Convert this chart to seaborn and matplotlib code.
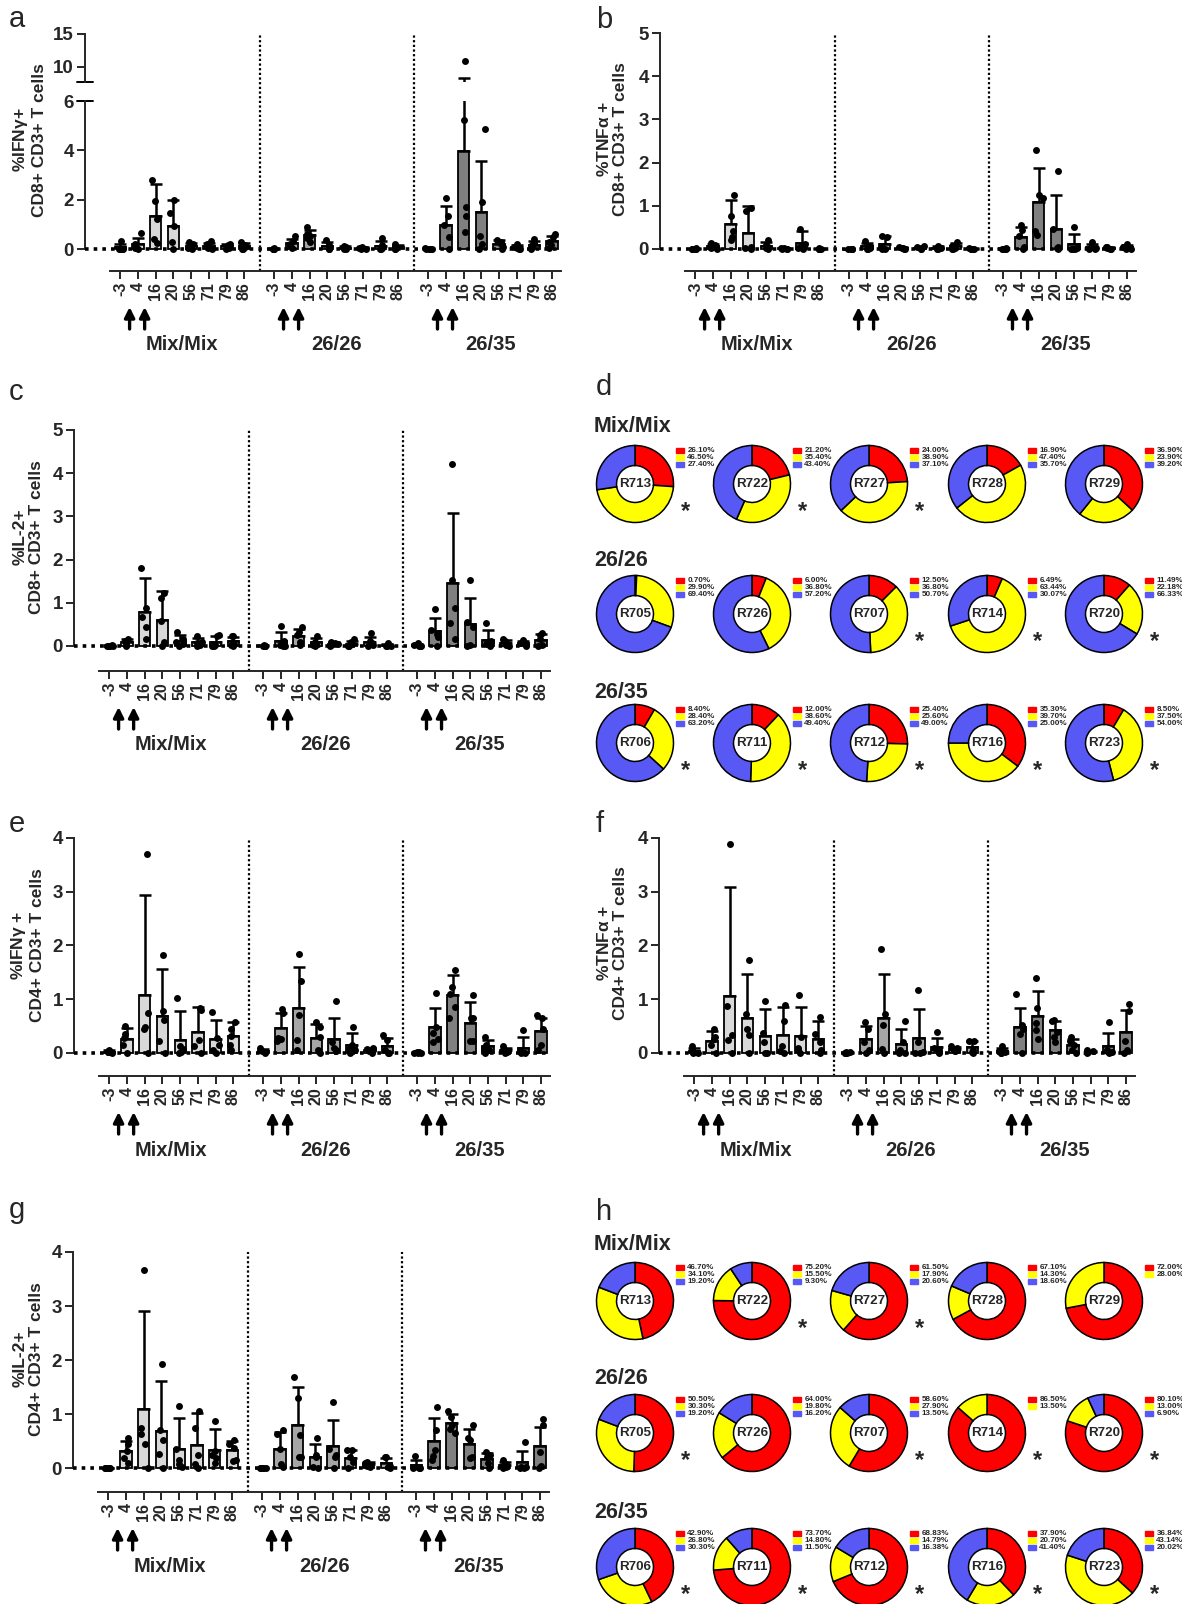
import numpy as np
import pandas as pd
import matplotlib
matplotlib.use('Agg')
from matplotlib import pyplot as plt
import matplotlib.transforms as mtransforms
from matplotlib.patches import Rectangle
import seaborn as sns

np.random.seed(3)

days = ['-3', '4', '16', '20', '56', '71', '79', '86']
groups = ['Mix/Mix', '26/26', '26/35']
bar_colors = ['#d9d9d9', '#a6a6a6', '#808080']

# ---- bar panels: individual points (5 animals per bar) and SD ----
a_pts = [[0.33, 0.02, 0, 0, 0], [0.64, 0.2, 0.1, 0.03, 0], [2.8, 1.95, 1.2, 0.4, 0.25], [1.97, 1.45, 0.95, 0.27, 0],
         [0.3, 0.22, 0.12, 0.05, 0], [0.32, 0.2, 0.08, 0.03, 0], [0.22, 0.15, 0.1, 0.05, 0.02], [0.3, 0.18, 0.08, 0.02, 0],
         [0.03, 0.02, 0.01, 0, 0], [0.52, 0.32, 0.22, 0.12, 0.05], [0.88, 0.62, 0.52, 0.45, 0.3], [0.35, 0.18, 0.08, 0.02, 0],
         [0.13, 0.08, 0.05, 0.02, 0], [0.08, 0.06, 0.04, 0.02, 0.01], [0.45, 0.15, 0.05, 0.02, 0], [0.22, 0.12, 0.05, 0.02, 0],
         [0.03, 0.02, 0.01, 0, 0], [2.06, 1.32, 0.98, 0.47, 0], [10.8, 5.25, 1.7, 1.35, 0.7], [4.87, 1.92, 0.52, 0.2, 0],
         [0.38, 0.3, 0.2, 0.1, 0.02], [0.22, 0.1, 0.05, 0.02, 0], [0.4, 0.25, 0.15, 0.08, 0.02], [0.6, 0.48, 0.3, 0.15, 0.05]]
a_sd = [0.13, 0.27, 1.33, 1.05, 0.12, 0.13, 0.08, 0.12,
        0.01, 0.18, 0.22, 0.14, 0.05, 0.03, 0.2, 0.09,
        0.01, 0.78, 4.25, 2.05, 0.15, 0.09, 0.15, 0.23]

b_pts = [[0.02, 0.01, 0.01, 0, 0], [0.13, 0.1, 0.05, 0.02, 0], [1.26, 0.76, 0.42, 0.28, 0.2], [0.95, 0.88, 0.05, 0.02, 0],
         [0.2, 0.1, 0.05, 0.02, 0], [0.03, 0.02, 0.01, 0, 0], [0.46, 0.12, 0.05, 0.02, 0], [0.02, 0.01, 0, 0, 0],
         [0.01, 0, 0, 0, 0], [0.18, 0.08, 0.03, 0.01, 0], [0.3, 0.28, 0.05, 0, 0], [0.05, 0.03, 0.02, 0.01, 0],
         [0.06, 0.04, 0.02, 0.01, 0], [0.08, 0.05, 0.02, 0.01, 0], [0.17, 0.08, 0.03, 0.01, 0], [0.02, 0.01, 0, 0, 0],
         [0.02, 0.01, 0, 0, 0], [0.55, 0.43, 0.3, 0.05, 0], [2.3, 1.24, 1.18, 0.42, 0.33], [1.8, 0.47, 0.05, 0.02, 0],
         [0.52, 0.02, 0, 0, 0], [0.15, 0.05, 0.02, 0.01, 0], [0.05, 0.04, 0.03, 0.01, 0], [0.12, 0.08, 0.04, 0.01, 0]]
b_sd = [0.01, 0.05, 0.54, 0.62, 0.08, 0.01, 0.28, 0.01,
        0.005, 0.07, 0.17, 0.02, 0.02, 0.03, 0.07, 0.01,
        0.01, 0.25, 0.79, 0.77, 0.23, 0.06, 0.02, 0.05]

c_pts = [[0.02, 0.01, 0, 0, 0], [0.17, 0.12, 0.08, 0.03, 0], [1.81, 0.87, 0.66, 0.45, 0.17], [1.22, 1.1, 0.57, 0.1, 0],
         [0.32, 0.15, 0.1, 0.05, 0], [0.24, 0.1, 0.06, 0.02, 0], [0.25, 0.22, 0.03, 0.01, 0], [0.24, 0.22, 0.05, 0.02, 0],
         [0.02, 0.01, 0, 0, 0], [0.47, 0.12, 0.03, 0, 0], [0.45, 0.32, 0.25, 0.1, 0.02], [0.24, 0.1, 0.04, 0.02, 0],
         [0.1, 0.07, 0.04, 0.02, 0], [0.15, 0.08, 0.04, 0.01, 0], [0.29, 0.12, 0.06, 0.02, 0], [0.06, 0.03, 0.01, 0, 0],
         [0.06, 0.02, 0.01, 0, 0], [0.85, 0.38, 0.28, 0.2, 0], [4.22, 1.53, 0.88, 0.52, 0.15], [1.53, 0.55, 0.45, 0.02, 0],
         [0.52, 0.12, 0.05, 0.02, 0], [0.17, 0.12, 0.05, 0.02, 0], [0.13, 0.1, 0.06, 0.02, 0], [0.3, 0.25, 0.15, 0.02, 0]]
c_sd = [0.01, 0.07, 0.77, 0.68, 0.13, 0.09, 0.12, 0.11,
        0.01, 0.21, 0.17, 0.1, 0.04, 0.06, 0.12, 0.03,
        0.03, 0.31, 1.62, 0.61, 0.22, 0.07, 0.05, 0.13]

e_pts = [[0.06, 0.04, 0.02, 0.01, 0], [0.5, 0.35, 0.28, 0.15, 0], [3.7, 0.74, 0.48, 0.45, 0], [1.82, 0.78, 0.62, 0.22, 0],
         [1.02, 0.12, 0.08, 0.02, 0], [0.83, 0.8, 0.24, 0.12, 0], [0.77, 0.28, 0.15, 0.05, 0], [0.58, 0.45, 0.32, 0.15, 0.05],
         [0.1, 0.04, 0.02, 0.01, 0], [0.82, 0.74, 0.27, 0.25, 0.22], [1.84, 1.33, 0.7, 0.24, 0.06], [0.58, 0.48, 0.3, 0.05, 0],
         [0.96, 0.2, 0.1, 0.05, 0.03], [0.48, 0.15, 0.08, 0.05, 0], [0.1, 0.07, 0.05, 0.03, 0], [0.34, 0.24, 0.05, 0, 0],
         [0.01, 0.01, 0, 0, 0], [1.11, 0.48, 0.37, 0.25, 0.2], [1.55, 1.22, 1.1, 0.85, 0.65], [1.08, 0.65, 0.65, 0.22, 0.22],
         [0.3, 0.15, 0.1, 0.05, 0], [0.13, 0.07, 0.03, 0.01, 0], [0.42, 0.03, 0.02, 0, 0], [0.7, 0.65, 0.45, 0.15, 0.05]]
e_sd = [0.03, 0.2, 1.87, 0.88, 0.54, 0.46, 0.37, 0.26,
        0.04, 0.28, 0.76, 0.25, 0.38, 0.21, 0.04, 0.15,
        0.005, 0.36, 0.37, 0.38, 0.12, 0.05, 0.2, 0.25]

f_pts = [[0.13, 0.05, 0.02, 0, 0], [0.45, 0.3, 0.25, 0.15, 0], [3.88, 0.88, 0.33, 0.24, 0], [1.73, 0.73, 0.45, 0.33, 0],
         [0.97, 0.37, 0.2, 0, 0], [0.9, 0.6, 0.13, 0.03, 0], [1.07, 0.3, 0.1, 0.06, 0], [0.67, 0.35, 0.2, 0.05, 0],
         [0.01, 0.01, 0, 0, 0], [0.57, 0.45, 0.2, 0.05, 0], [1.94, 0.72, 0.52, 0.08, 0], [0.6, 0.2, 0.05, 0, 0],
         [1.18, 0.2, 0.02, 0, 0], [0.38, 0.1, 0.05, 0.02, 0], [0.12, 0.1, 0.07, 0.05, 0.03], [0.23, 0.22, 0.05, 0.02, 0],
         [0.12, 0.03, 0.01, 0, 0], [1.1, 0.52, 0.45, 0.35, 0], [1.4, 0.83, 0.55, 0.42, 0.25], [0.62, 0.6, 0.38, 0.3, 0.2],
         [0.3, 0.22, 0.15, 0.05, 0], [0.05, 0.03, 0.02, 0.01, 0], [0.57, 0.05, 0.04, 0.02, 0], [0.91, 0.78, 0.22, 0.05, 0]]
f_sd = [0.05, 0.17, 2.02, 0.82, 0.51, 0.52, 0.55, 0.34,
        0.005, 0.24, 0.81, 0.27, 0.54, 0.16, 0.04, 0.11,
        0.05, 0.35, 0.46, 0.18, 0.12, 0.02, 0.24, 0.41]

g_pts = [[0.01, 0.01, 0, 0, 0], [0.55, 0.45, 0.32, 0.18, 0.1], [3.67, 0.74, 0.63, 0.44, 0], [1.92, 0.7, 0.53, 0.26, 0],
         [1.16, 0.35, 0.15, 0.08, 0.02], [1.05, 0.74, 0.25, 0.08, 0], [0.88, 0.32, 0.25, 0.18, 0.1], [0.53, 0.45, 0.38, 0.15, 0.13],
         [0.01, 0.01, 0, 0, 0], [0.7, 0.63, 0.35, 0.08, 0.02], [1.69, 1.3, 0.62, 0.2, 0.2], [0.56, 0.25, 0.2, 0.02, 0],
         [1.23, 0.35, 0.25, 0.2, 0], [0.34, 0.33, 0.2, 0.12, 0], [0.12, 0.1, 0.08, 0.05, 0.03], [0.21, 0.2, 0.05, 0.02, 0],
         [0.23, 0.02, 0.01, 0, 0], [1.13, 0.7, 0.33, 0.22, 0.15], [1.05, 0.95, 0.8, 0.73, 0.65], [0.8, 0.55, 0.53, 0.2, 0.18],
         [0.3, 0.25, 0.2, 0.1, 0], [0.15, 0.08, 0.05, 0.02, 0], [0.48, 0.03, 0.02, 0, 0], [0.91, 0.8, 0.3, 0.05, 0]]
g_sd = [0.005, 0.19, 1.82, 0.93, 0.58, 0.6, 0.38, 0.18,
        0.005, 0.31, 0.7, 0.25, 0.49, 0.14, 0.04, 0.1,
        0.1, 0.42, 0.16, 0.27, 0.12, 0.06, 0.21, 0.35]

# ---- donut panels (red / yellow / blue %) ----
pie_colors = ['#ff0000', '#ffff00', '#5858f4']
names_mix = ['R713', 'R722', 'R727', 'R728', 'R729']
names_2626 = ['R705', 'R726', 'R707', 'R714', 'R720']
names_2635 = ['R706', 'R711', 'R712', 'R716', 'R723']

d_mix = [[26.10, 46.50, 27.40], [21.20, 35.40, 43.40], [24.00, 38.90, 37.10], [16.90, 47.40, 35.70], [36.90, 23.90, 39.20]]
d_2626 = [[0.70, 29.90, 69.40], [6.00, 36.80, 57.20], [12.50, 36.80, 50.70], [6.49, 63.44, 30.07], [11.49, 22.18, 66.33]]
d_2635 = [[8.40, 28.40, 63.20], [12.00, 38.60, 49.40], [25.40, 25.60, 49.00], [35.30, 39.70, 25.00], [8.50, 37.50, 54.00]]
d_stars = [[1, 1, 1, 0, 0], [0, 0, 1, 1, 1], [1, 1, 1, 1, 1]]

h_mix = [[46.70, 34.10, 19.20], [75.20, 15.50, 9.30], [61.50, 17.90, 20.60], [67.10, 14.30, 18.60], [72.00, 28.00]]
h_2626 = [[50.50, 30.30, 19.20], [64.00, 19.80, 16.20], [58.60, 27.90, 13.50], [86.50, 13.50], [80.10, 13.00, 6.90]]
h_2635 = [[42.90, 26.80, 30.30], [73.70, 14.80, 11.50], [68.83, 14.79, 16.38], [37.90, 20.70, 41.40], [36.84, 43.14, 20.02]]
h_stars = [[0, 1, 1, 0, 0], [1, 0, 1, 1, 1], [1, 1, 1, 1, 1]]

sns.set_style('ticks')
plt.rcParams['font.family'] = ['Liberation Sans', 'DejaVu Sans']
plt.rcParams['font.weight'] = 'bold'
plt.rcParams['axes.labelweight'] = 'bold'
plt.rcParams['mathtext.default'] = 'regular'

W, H = 1182, 1604
fig = plt.figure(figsize=(W / 100, H / 100), dpi=100)

offsets = [0, 8.7, 17.4]
positions = [o + i for o in offsets for i in range(8)]


def px_ax(left, top, right, bottom):
    return fig.add_axes([left / W, 1 - bottom / H, (right - left) / W, (bottom - top) / H])


def make_df(pts):
    rows = []
    for k, vals in enumerate(pts):
        for v in vals:
            rows.append((positions[k], groups[k // 8], v))
    return pd.DataFrame(rows, columns=['pos', 'group', 'val'])


def draw_bars(ax, pts, sd, ylim, yticks, bottom=True, spine_lo=0):
    df = make_df(pts)
    sns.barplot(data=df, x='pos', y='val', hue='group', hue_order=groups, palette=bar_colors,
                native_scale=True, errorbar=None, width=0.64, saturation=1, edgecolor='black',
                linewidth=1.3, legend=False, ax=ax, zorder=2)
    means = df.groupby('pos', sort=True)['val'].mean()
    ax.errorbar(means.index, means.values, yerr=[np.zeros(len(sd)), sd], fmt='none', ecolor='black',
                elinewidth=1.8, capsize=4, capthick=1.8, zorder=3)
    ax.axhline(0, color='black', lw=2.6, ls=(0, (1, 1.4)), zorder=4)
    sns.stripplot(data=df, x='pos', y='val', native_scale=True, color='black', size=5.0,
                  jitter=0.22, ax=ax, zorder=5)
    ax.set_xlim(-2, 24.9)
    ax.set_ylim(*ylim)
    ax.set_yticks(yticks)
    ax.set_yticklabels([str(t) for t in yticks], fontsize=13.5, fontweight='bold')
    ax.set_xlabel('')
    ax.set_ylabel('')
    ax.patch.set_alpha(0)
    for s in ['top', 'right']:
        ax.spines[s].set_visible(False)
    ax.spines['left'].set_bounds(spine_lo, ylim[1])
    ax.spines['left'].set_linewidth(1.4)
    ax.tick_params(axis='y', length=6, width=1.4, pad=2)
    if bottom:
        ax.spines['bottom'].set_bounds(-0.6, 24.9)
        ax.spines['bottom'].set_linewidth(1.4)
        ax.set_xticks(positions)
        ax.set_xticklabels(days * 3, rotation=90, fontsize=11.5, fontweight='bold')
        ax.tick_params(axis='x', length=6, width=1.4, pad=2)
    else:
        ax.spines['bottom'].set_visible(False)
        ax.set_xticks([])


def decorate(ax, top_extra=1.0):
    for x in [7.9, 16.6]:
        ax.axvline(x, 0, top_extra, color='black', lw=1.6, ls=(0, (1, 1.1)), clip_on=False, zorder=1)
    trans = mtransforms.blended_transform_factory(ax.transData, ax.transAxes)
    tip = mtransforms.offset_copy(trans, fig=fig, y=-36, units='dots')
    base = mtransforms.offset_copy(trans, fig=fig, y=-58, units='dots')
    lab = mtransforms.offset_copy(trans, fig=fig, y=-74, units='dots')
    for o, name in zip(offsets, groups):
        for dx in [0.52, 1.37]:
            ax.annotate('', xy=(o + dx, 0), xycoords=tip, xytext=(o + dx, 0), textcoords=base,
                        arrowprops=dict(arrowstyle='-|>,head_length=0.6,head_width=0.3', lw=2.4,
                                        color='black', shrinkA=0, shrinkB=0), annotation_clip=False)
        ax.text(o + 3.5, 0, name, transform=lab, ha='center', va='center', fontsize=14.5, fontweight='bold')


def ylab(x, y, text):
    fig.text(x / W, 1 - y / H, text, rotation=90, ha='center', va='center', fontsize=12.5,
             fontweight='bold', multialignment='center', linespacing=1.1)


def letter(x, y, s):
    fig.text(x / W, 1 - y / H, s, ha='left', va='baseline', fontsize=21, fontweight='normal')


# panel a (broken axis)
ax_a = px_ax(85, 101, 561, 271)
draw_bars(ax_a, a_pts, a_sd, (-0.89, 6), [0, 2, 4, 6])
ax_a2 = px_ax(85, 34, 561, 82)
draw_bars(ax_a2, a_pts, a_sd, (7.64, 15), [10, 15], bottom=False, spine_lo=7.64)
ax_a2.plot([-0.016, 0.016], [0, 0], transform=ax_a2.transAxes, color='black', lw=1.4, clip_on=False)
ax_a.plot([-0.016, 0.016], [1, 1], transform=ax_a.transAxes, color='black', lw=1.4, clip_on=False)
decorate(ax_a, top_extra=(271 - 34) / (271 - 101))
ylab(29, 140, '%IFN$\\gamma$+\nCD8+ CD3+ T cells')
letter(9, 27, 'a')

# panel b
ax_b = px_ax(660, 33, 1136, 271)
draw_bars(ax_b, b_pts, b_sd, (-0.51, 5), [0, 1, 2, 3, 4, 5])
decorate(ax_b)
ylab(612, 139, '%TNF$\\alpha$ +\nCD8+ CD3+ T cells')
letter(596, 28, 'b')

# panel c
ax_c = px_ax(74, 430, 550, 671)
draw_bars(ax_c, c_pts, c_sd, (-0.58, 5), [0, 1, 2, 3, 4, 5])
decorate(ax_c)
ylab(28, 537, '%IL-2+\nCD8+ CD3+ T cells')
letter(9, 400, 'c')

# panel e
ax_e = px_ax(74, 838, 550, 1076)
draw_bars(ax_e, e_pts, e_sd, (-0.43, 4), [0, 1, 2, 3, 4])
decorate(ax_e)
ylab(27, 945, '%IFN$\\gamma$ +\nCD4+ CD3+ T cells')
letter(9, 832, 'e')

# panel f
ax_f = px_ax(659, 838, 1135, 1076)
draw_bars(ax_f, f_pts, f_sd, (-0.43, 4), [0, 1, 2, 3, 4])
decorate(ax_f)
ylab(612, 943, '%TNF$\\alpha$ +\nCD4+ CD3+ T cells')
letter(596, 832, 'f')

# panel g
ax_g = px_ax(73, 1252, 549, 1492)
draw_bars(ax_g, g_pts, g_sd, (-0.44, 4), [0, 1, 2, 3, 4])
decorate(ax_g)
ylab(28, 1359, '%IL-2+\nCD4+ CD3+ T cells')
letter(9, 1218, 'g')

# donut panels
R = 38.5
cxs = [635, 752, 869, 987, 1104]


def donut(cx, cy, vals, name, star):
    ax = px_ax(cx - R, cy - R, cx + R, cy + R)
    ax.pie(vals, colors=pie_colors[:len(vals)], startangle=90, counterclock=False, radius=1,
           wedgeprops=dict(width=0.52, edgecolor='black', linewidth=1.1))
    ax.set_xlim(-1, 1)
    ax.set_ylim(-1, 1)
    ax.set_aspect('equal')
    ax.axis('off')
    ax.text(0, 0, name, ha='center', va='center', fontsize=9.6, fontweight='bold')
    for i, v in enumerate(vals):
        yy = 0.86 - 0.18 * i
        ax.add_patch(Rectangle((1.06, yy - 0.065), 0.2, 0.13, color=pie_colors[i], clip_on=False))
        ax.text(1.36, yy, f'{v:.2f}%', ha='left', va='center', fontsize=5.8, fontweight='bold')
    if star:
        ax.text(1.32, -0.72, '*', ha='center', va='center', fontsize=17, fontweight='bold')


def donut_panel(rows_y, titles_y, data_rows, stars):
    names = [names_mix, names_2626, names_2635]
    for r in range(3):
        fig.text(594 / W, 1 - titles_y[r] / H, groups[r], ha='left', va='center', fontsize=15.5, fontweight='bold')
        for k in range(5):
            donut(cxs[k], rows_y[r], data_rows[r][k], names[r][k], stars[r][k])


donut_panel([484, 614, 743], [427, 560, 693], [d_mix, d_2626, d_2635], d_stars)
letter(596, 395, 'd')
donut_panel([1301, 1433, 1567], [1245, 1378, 1512], [h_mix, h_2626, h_2635], h_stars)
letter(596, 1220, 'h')

fig.savefig('out.png', dpi=100)
